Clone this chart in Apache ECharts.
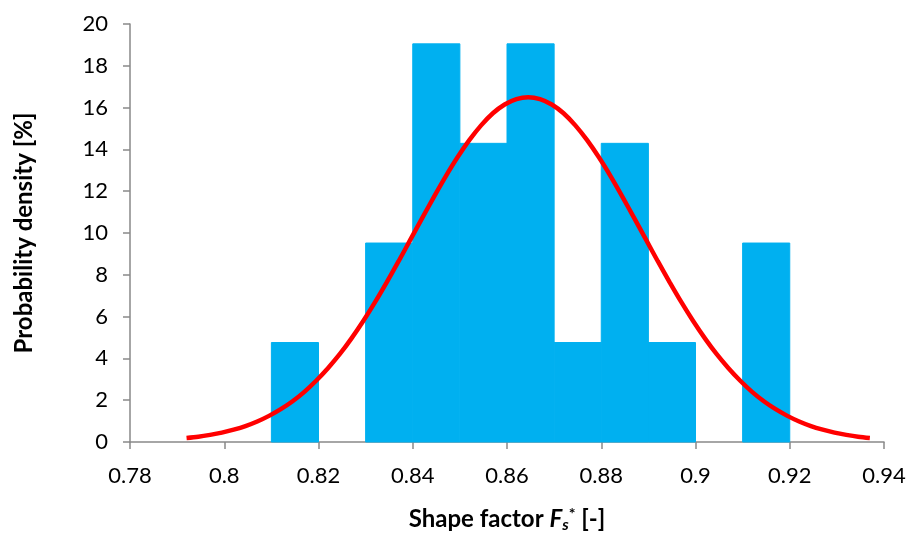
<!DOCTYPE html>
<html>
<head>
<meta charset="utf-8">
<script src="https://cdn.jsdelivr.net/npm/echarts@6/dist/echarts.min.js"></script>
<style>
  html, body { margin: 0; padding: 0; background: #fff; overflow: hidden; }
  #chart { width: 910px; height: 538px; }
</style>
</head>
<body>
<div id="chart"></div>
<script>
// Histogram bins of the shape factor (bin start, width 0.01) and their densities in %
var binStarts = [0.81, 0.83, 0.84, 0.85, 0.86, 0.87, 0.88, 0.89, 0.91];
var binHeights = [4.76, 9.52, 19.05, 14.29, 19.05, 4.76, 14.29, 4.76, 9.52];
var binWidth = 0.01;

// Fitted normal density curve, sampled every 0.0025
var curveX = [0.792, 0.7945, 0.797, 0.7995, 0.802, 0.8045, 0.807, 0.8095, 0.812, 0.8145,
              0.817, 0.8195, 0.822, 0.8245, 0.827, 0.8295, 0.832, 0.8345, 0.837, 0.8395,
              0.842, 0.8445, 0.847, 0.8495, 0.852, 0.8545, 0.857, 0.8595, 0.862, 0.8645,
              0.867, 0.8695, 0.872, 0.8745, 0.877, 0.8795, 0.882, 0.8845, 0.887, 0.8895,
              0.892, 0.8945, 0.897, 0.8995, 0.902, 0.9045, 0.907, 0.9095, 0.912, 0.9145,
              0.917, 0.9195, 0.922, 0.9245, 0.927, 0.9295, 0.932, 0.9345, 0.937];
var curveY = [0.19, 0.25, 0.34, 0.45, 0.59, 0.76, 0.98, 1.25, 1.57, 1.95,
              2.40, 2.93, 3.53, 4.20, 4.96, 5.79, 6.69, 7.65, 8.65, 9.68,
              10.71, 11.73, 12.71, 13.62, 14.44, 15.15, 15.73, 16.15, 16.41, 16.50,
              16.41, 16.15, 15.73, 15.15, 14.44, 13.62, 12.71, 11.73, 10.71, 9.68,
              8.65, 7.65, 6.69, 5.79, 4.96, 4.20, 3.53, 2.93, 2.40, 1.95,
              1.57, 1.25, 0.98, 0.76, 0.59, 0.45, 0.34, 0.25, 0.19];

var barData = binStarts.map(function (s, i) { return [s, s + binWidth, binHeights[i]]; });
var curveData = curveX.map(function (x, i) { return [x, curveY[i]]; });

var chart = echarts.init(document.getElementById('chart'));
var axisColor = '#898989';
var font = 'Lato, "Open Sans", sans-serif';

chart.setOption({
  animation: false,
  grid: { left: 130, width: 754, top: 24, height: 424 },
  xAxis: {
    type: 'value',
    min: 0.78, max: 0.94, interval: 0.02,
    splitLine: { show: false },
    axisLine: { lineStyle: { color: axisColor, width: 1.5 } },
    axisTick: { show: true, length: 7, lineStyle: { color: axisColor, width: 1.5 } },
    axisLabel: {
      color: '#000', fontFamily: font, fontSize: 22, margin: 23,
      formatter: function (v) { return String(+v.toFixed(2)); }
    },
    name: '{b|Shape factor }{i|F}{sub|s}{sup|*}{b| [-]}',
    nameLocation: 'middle',
    nameGap: 64,
    nameTextStyle: {
      rich: {
        b: { fontFamily: font, fontWeight: 'bold', fontSize: 24, color: '#000' },
        i: { fontFamily: font, fontWeight: 'bold', fontStyle: 'italic', fontSize: 24, color: '#000' },
        sub: { fontFamily: font, fontWeight: 'bold', fontStyle: 'italic', fontSize: 16, color: '#000', padding: [11, 0, 0, 0] },
        sup: { fontFamily: font, fontWeight: 'bold', fontSize: 16, color: '#000', padding: [0, 0, 11, 0] }
      }
    }
  },
  yAxis: {
    type: 'value',
    min: 0, max: 20, interval: 2,
    splitLine: { show: false },
    axisLine: { show: true, lineStyle: { color: axisColor, width: 1.5 } },
    axisTick: { show: true, length: 7, lineStyle: { color: axisColor, width: 1.5 } },
    axisLabel: { color: '#000', fontFamily: font, fontSize: 22, margin: 22 },
    name: 'Probability density [%]',
    nameLocation: 'middle',
    nameGap: 94,
    nameTextStyle: { color: '#000', fontFamily: font, fontWeight: 'bold', fontSize: 24 }
  },
  series: [
    {
      type: 'custom',
      data: barData,
      encode: { x: [0, 1], y: 2 },
      renderItem: function (params, api) {
        var p0 = api.coord([api.value(0), api.value(2)]);
        var p1 = api.coord([api.value(1), 0]);
        return {
          type: 'rect',
          shape: { x: p0[0], y: p0[1], width: p1[0] - p0[0], height: p1[1] - p0[1] },
          style: { fill: '#00B0F0', stroke: '#00B0F0', lineWidth: 1 }
        };
      },
      z: 1
    },
    {
      type: 'line',
      data: curveData,
      smooth: 0.3,
      showSymbol: false,
      lineStyle: { color: '#FF0000', width: 4.5 },
      z: 2
    }
  ]
});
</script>
</body>
</html>
